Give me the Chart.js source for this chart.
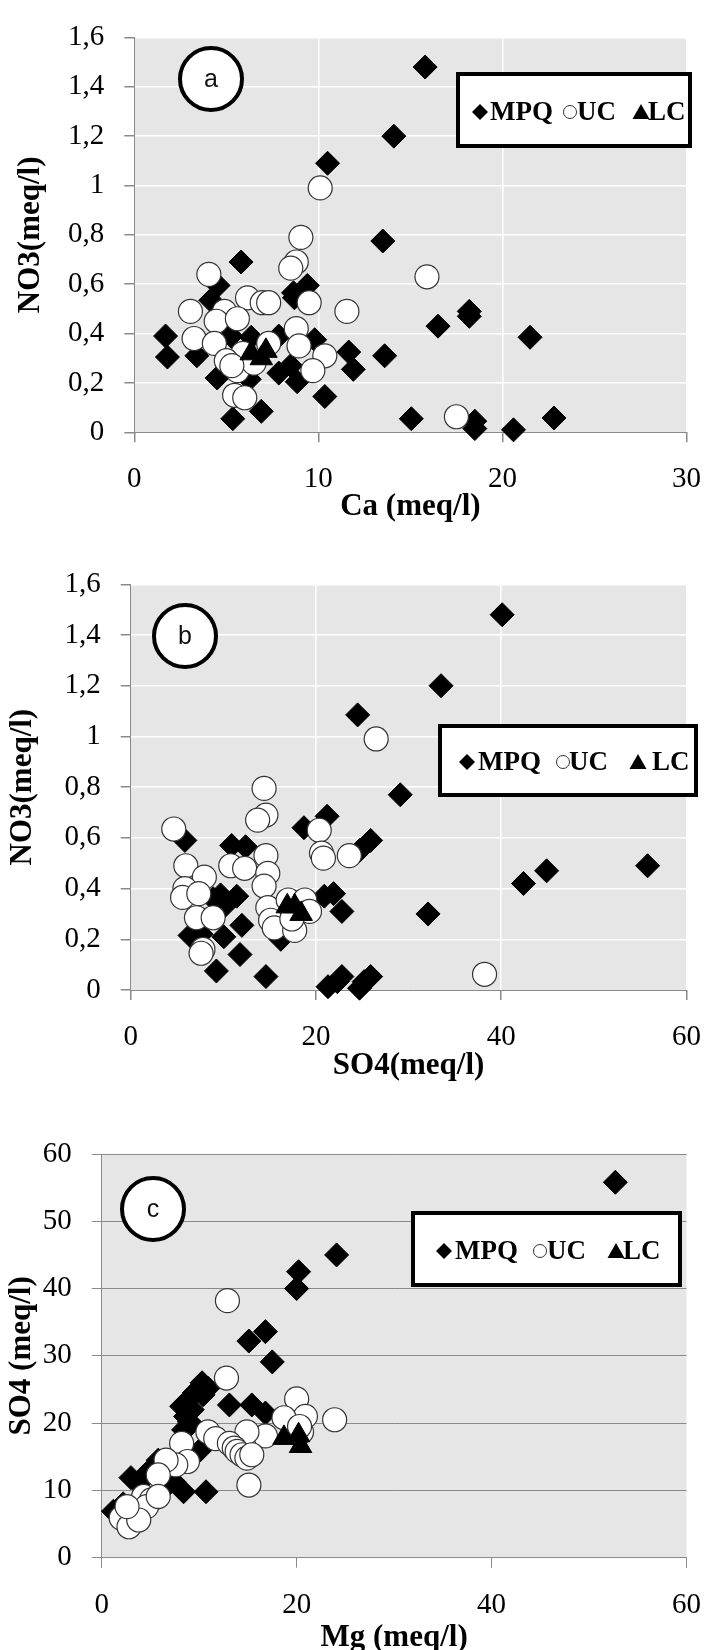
<!DOCTYPE html>
<html>
<head>
<meta charset="utf-8">
<script src="https://cdn.jsdelivr.net/npm/chart.js@4.4.1/dist/chart.umd.min.js"></script>
<style>
html, body { margin: 0; padding: 0; background: #fff; overflow: hidden; }
#wrap { position: relative; width: 721px; height: 1650px; overflow: hidden; }
canvas { position: absolute; left: 0; }
</style>
</head>
<body>
<div id="wrap">
  <canvas id="graficoA" width="721" height="545" style="top:0"></canvas>
  <canvas id="graficoB" width="721" height="555" style="top:545px"></canvas>
  <canvas id="graficoC" width="721" height="558" style="top:1100px"></canvas>
</div>
<script>
// --- valori ---

// (a) NO3 in funzione di Ca
const caMPQ = [1.7, 1.8, 3.4, 5.8, 4.55, 4.15, 4.5, 5.35, 6.9, 7.85, 7.85, 8.85, 8.5, 9.4, 8.65, 8.7, 9.8, 10.35, 11.65, 11.9, 13.5, 13.6, 6.25, 5.25, 6.35, 15.8, 14.1, 10.5, 18.2, 18.2, 16.5, 21.5, 15.05, 18.5, 18.5, 20.6, 22.8];
const no3MPQ_a = [0.39, 0.305, 0.31, 0.69, 0.595, 0.535, 0.22, 0.055, 0.085, 0.39, 0.24, 0.205, 0.27, 0.595, 0.565, 0.545, 0.375, 0.145, 0.325, 0.255, 0.775, 0.31, 0.215, 0.39, 0.385, 1.48, 1.2, 1.09, 0.49, 0.47, 0.43, 0.385, 0.055, 0.045, 0.015, 0.01, 0.058];
const caUC = [10.1, 9.05, 8.8, 8.5, 4.05, 6.15, 6.95, 7.3, 9.5, 11.55, 3.05, 4.9, 4.45, 5.6, 3.25, 4.35, 8.8, 8.95, 7.3, 5.9, 5.0, 5.6, 10.35, 9.7, 5.45, 6.0, 15.9, 17.5, 6.5, 5.3];
const no3UC_a = [0.99, 0.79, 0.69, 0.665, 0.64, 0.545, 0.525, 0.525, 0.525, 0.49, 0.49, 0.49, 0.45, 0.46, 0.38, 0.36, 0.42, 0.35, 0.36, 0.32, 0.29, 0.25, 0.31, 0.25, 0.15, 0.14, 0.63, 0.063, 0.28, 0.27];
const caLC = [6.35, 6.9, 7.15];
const no3LC_a = [0.32, 0.30, 0.33];

// (b) NO3 in funzione di SO4
const so4MPQ = [40.1, 33.5, 24.5, 29.1, 21.2, 18.7, 25.9, 24.7, 5.85, 10.9, 12.4, 20.9, 21.9, 22.8, 32.1, 42.4, 44.9, 55.8, 9.7, 11.45, 8.9, 10.1, 12.0, 10.05, 6.4, 7.6, 11.8, 9.25, 14.6, 16.2, 21.3, 22.3, 22.8, 24.7, 25.2, 25.9];
const no3MPQ_b = [1.48, 1.2, 1.085, 0.77, 0.685, 0.64, 0.59, 0.55, 0.59, 0.57, 0.565, 0.37, 0.38, 0.31, 0.30, 0.42, 0.47, 0.49, 0.375, 0.37, 0.36, 0.33, 0.255, 0.21, 0.215, 0.22, 0.14, 0.075, 0.053, 0.2, 0.013, 0.033, 0.053, 0.007, 0.033, 0.053];
const so4UC = [26.5, 38.2, 14.4, 14.6, 13.7, 4.65, 20.35, 20.6, 20.8, 23.6, 5.95, 10.8, 12.3, 14.6, 14.8, 7.95, 5.85, 5.6, 7.35, 14.4, 14.8, 15.1, 15.5, 17.7, 17.0, 18.8, 19.3, 7.1, 8.9, 7.8, 7.6, 17.4];
const no3UC_b = [0.99, 0.062, 0.795, 0.69, 0.67, 0.635, 0.63, 0.54, 0.52, 0.53, 0.49, 0.49, 0.48, 0.53, 0.46, 0.445, 0.40, 0.365, 0.38, 0.41, 0.325, 0.275, 0.245, 0.235, 0.355, 0.355, 0.31, 0.285, 0.285, 0.16, 0.145, 0.28];
const so4LC = [16.9, 17.7, 18.4];
const no3LC_b = [0.33, 0.33, 0.30];

// (c) SO4 in funzione di Mg
const mgMPQ = [52.7, 24.1, 20.2, 20.0, 16.8, 15.1, 17.5, 10.3, 10.9, 10.4, 8.7, 9.3, 8.6, 13.1, 15.4, 16.8, 8.9, 10.1, 8.4, 10.7, 3.0, 4.6, 5.8, 1.2, 6.3, 7.4, 8.4, 3.8, 9.5, 8.2, 9.0, 2.2, 5.0];
const so4MPQ_c = [55.8, 45.0, 42.5, 40.0, 33.6, 32.2, 29.1, 26.0, 25.2, 24.2, 23.2, 22.0, 21.0, 22.7, 22.7, 21.5, 19.5, 16.0, 9.8, 9.8, 11.9, 12.5, 14.5, 6.9, 10.1, 11.3, 19.0, 11.0, 24.5, 22.5, 20.2, 8.0, 13.0];
const mgUC = [12.9, 12.8, 20.0, 20.9, 18.7, 23.9, 20.5, 16.8, 10.9, 11.7, 14.9, 13.1, 13.6, 13.9, 14.4, 14.9, 15.4, 15.1, 8.2, 8.8, 7.6, 6.6, 5.8, 4.3, 5.1, 4.6, 2.0, 2.8, 3.8, 2.6, 5.8, 20.3];
const so4UC_c = [38.2, 26.7, 23.6, 21.0, 20.8, 20.5, 18.7, 18.1, 18.7, 17.7, 18.7, 17.0, 16.3, 15.8, 15.3, 14.8, 15.3, 10.8, 17.0, 14.3, 13.8, 14.5, 12.3, 9.1, 8.6, 7.6, 5.9, 4.6, 5.6, 7.6, 9.1, 19.5];
const mgLC = [18.7, 20.2, 20.4];
const so4LC_c = [17.8, 18.2, 16.6];

const serieNomi = ['MPQ', 'UC', 'LC'];

// --- stile ---
const serif = '"Liberation Serif", "Times New Roman", serif';
const sans = '"Liberation Sans", Arial, sans-serif';
const grigioAsse = '#8a8a8a';

const stili = {
    MPQ: { pointStyle: 'rectRot', pointRadius: 12, backgroundColor: '#000', borderColor: '#000', borderWidth: 1, order: 3 },
    UC: { pointStyle: 'circle', pointRadius: 12, backgroundColor: '#fff', borderColor: '#333', borderWidth: 1.2, order: 2 },
    LC: { pointStyle: 'triangle', pointRadius: 13, backgroundColor: '#000', borderColor: '#000', borderWidth: 1, order: 1 }
};

// legenda e cerchietto con la lettera, in pixel del canvas
const decori = {
    graficoA: {
        lettera: 'a', cerchio: [211, 79],
        box: [458, 74, 232, 72], testoY: 112,
        voci: [[480, 490], [570, 577], [641, 648]]
    },
    graficoB: {
        lettera: 'b', cerchio: [185, 91],
        box: [440, 181, 256, 69], testoY: 217,
        voci: [[467, 478], [563, 569], [638, 652]]
    },
    graficoC: {
        lettera: 'c', cerchio: [153, 109],
        box: [413, 113, 267, 72], testoY: 151,
        voci: [[444, 455], [540, 547], [616, 623]]
    }
};

function punti(xs, ys) {
    return xs.map((x, i) => ({ x: x, y: ys[i] }));
}

function virgola(v) {
    return String(Math.round(v * 10) / 10).replace('.', ',');
}

function simbolo(ctx, nome, x, y) {
    ctx.save();
    ctx.beginPath();
    if (nome === 'MPQ') {
        ctx.moveTo(x, y - 8);
        ctx.lineTo(x + 8, y);
        ctx.lineTo(x, y + 8);
        ctx.lineTo(x - 8, y);
        ctx.closePath();
        ctx.fillStyle = '#000';
        ctx.fill();
    } else if (nome === 'UC') {
        ctx.arc(x, y, 6.5, 0, Math.PI * 2);
        ctx.fillStyle = '#fff';
        ctx.fill();
        ctx.lineWidth = 1;
        ctx.strokeStyle = '#333';
        ctx.stroke();
    } else {
        ctx.moveTo(x, y - 8);
        ctx.lineTo(x + 8.5, y + 7);
        ctx.lineTo(x - 8.5, y + 7);
        ctx.closePath();
        ctx.fillStyle = '#000';
        ctx.fill();
    }
    ctx.restore();
}

const decorazioni = {
    id: 'decorazioni',
    beforeDraw(chart) {
        const a = chart.chartArea;
        const ctx = chart.ctx;
        ctx.save();
        ctx.fillStyle = '#e6e6e6';
        ctx.fillRect(a.left, a.top, a.right - a.left, a.bottom - a.top);
        ctx.restore();
    },
    afterDatasetsDraw(chart) {
        const d = decori[chart.canvas.id];
        const ctx = chart.ctx;
        ctx.save();

        // cerchio con la lettera
        ctx.beginPath();
        ctx.arc(d.cerchio[0], d.cerchio[1], 31, 0, Math.PI * 2);
        ctx.fillStyle = '#fff';
        ctx.fill();
        ctx.lineWidth = 4;
        ctx.strokeStyle = '#000';
        ctx.stroke();
        ctx.fillStyle = '#111';
        ctx.font = '25px ' + sans;
        ctx.textAlign = 'center';
        ctx.textBaseline = 'middle';
        ctx.fillText(d.lettera, d.cerchio[0], d.cerchio[1] + 1);

        // legenda
        const b = d.box;
        ctx.fillStyle = '#fff';
        ctx.fillRect(b[0], b[1], b[2], b[3]);
        ctx.lineWidth = 4;
        ctx.strokeStyle = '#000';
        ctx.strokeRect(b[0], b[1], b[2], b[3]);
        ctx.font = 'bold 27px ' + serif;
        ctx.textAlign = 'left';
        ctx.fillStyle = '#000';
        d.voci.forEach((v, i) => {
            simbolo(ctx, serieNomi[i], v[0], d.testoY);
            ctx.fillText(serieNomi[i], v[1], d.testoY + 1);
        });
        ctx.restore();
    }
};

function serie(nome, xs, ys) {
    return Object.assign({ label: nome, data: punti(xs, ys), clip: false }, stili[nome]);
}

function asse(opz) {
    const bianca = opz.griglia === 'bianca';
    return {
        type: 'linear',
        min: 0,
        max: opz.max,
        ticks: {
            stepSize: opz.passo,
            autoSkip: false,
            maxRotation: 0,
            padding: 20,
            color: '#000',
            font: { family: serif, size: 29 },
            callback: opz.virgola ? virgola : (v) => String(v)
        },
        grid: {
            display: true,
            drawOnChartArea: opz.griglia !== 'nessuna',
            color: (c) => (c.tick && c.tick.value === 0) ? 'rgba(0,0,0,0)' : (bianca ? '#ffffff' : grigioAsse),
            lineWidth: bianca ? 1.5 : 1,
            tickColor: grigioAsse,
            tickLength: 10
        },
        border: { display: true, color: grigioAsse, width: 1 },
        title: {
            display: true,
            text: opz.titolo,
            color: '#000',
            font: { family: serif, size: 31, weight: 'bold' },
            padding: opz.padTitolo
        },
        afterFit: opz.fit
    };
}

function creaGrafico(id, dati, scale, padding) {
    return new Chart(document.getElementById(id), {
        type: 'scatter',
        data: { datasets: dati },
        options: {
            responsive: false,
            animation: false,
            devicePixelRatio: 1,
            layout: { padding: padding },
            plugins: { legend: { display: false }, tooltip: { enabled: false } },
            scales: scale
        },
        plugins: [decorazioni]
    });
}

// (a)
creaGrafico('graficoA', [
    serie('MPQ', caMPQ, no3MPQ_a),
    serie('UC', caUC, no3UC_a),
    serie('LC', caLC, no3LC_a)
], {
    x: asse({ max: 30, passo: 10, griglia: 'bianca', titolo: 'Ca (meq/l)', padTitolo: { top: 0, bottom: 6.7 }, fit: (s) => { s.height = 100; } }),
    y: asse({ max: 1.6, passo: 0.2, griglia: 'bianca', virgola: true, titolo: 'NO3(meq/l)', padTitolo: { top: 12.4, bottom: 0 }, fit: (s) => { s.width = 134.3; } })
}, { left: 0, right: 26, top: 21.7, bottom: 12.7 });

// (b)
creaGrafico('graficoB', [
    serie('MPQ', so4MPQ, no3MPQ_b),
    serie('UC', so4UC, no3UC_b),
    serie('LC', so4LC, no3LC_b)
], {
    x: asse({ max: 60, passo: 20, griglia: 'bianca', titolo: 'SO4(meq/l)', padTitolo: { top: 0, bottom: 5.4 }, fit: (s) => { s.height = 100; } }),
    y: asse({ max: 1.6, passo: 0.2, griglia: 'bianca', virgola: true, titolo: 'NO3(meq/l)', padTitolo: { top: 4.4, bottom: 0 }, fit: (s) => { s.width = 130.7; } })
}, { left: 0, right: 17.3, top: 39.3, bottom: 10 });

// (c)
creaGrafico('graficoC', [
    serie('MPQ', mgMPQ, so4MPQ_c),
    serie('UC', mgUC, so4UC_c),
    serie('LC', mgLC, so4LC_c)
], {
    x: asse({ max: 60, passo: 20, griglia: 'nessuna', titolo: 'Mg (meq/l)', padTitolo: { top: 0, bottom: 1.1 }, fit: (s) => { s.height = 100; } }),
    y: asse({ max: 60, passo: 10, griglia: 'grigia', titolo: 'SO4 (meq/l)', padTitolo: { top: 3.4, bottom: 0 }, fit: (s) => { s.width = 101.7; } })
}, { left: 0, right: 15, top: 54, bottom: 0.3 });
</script>
</body>
</html>
